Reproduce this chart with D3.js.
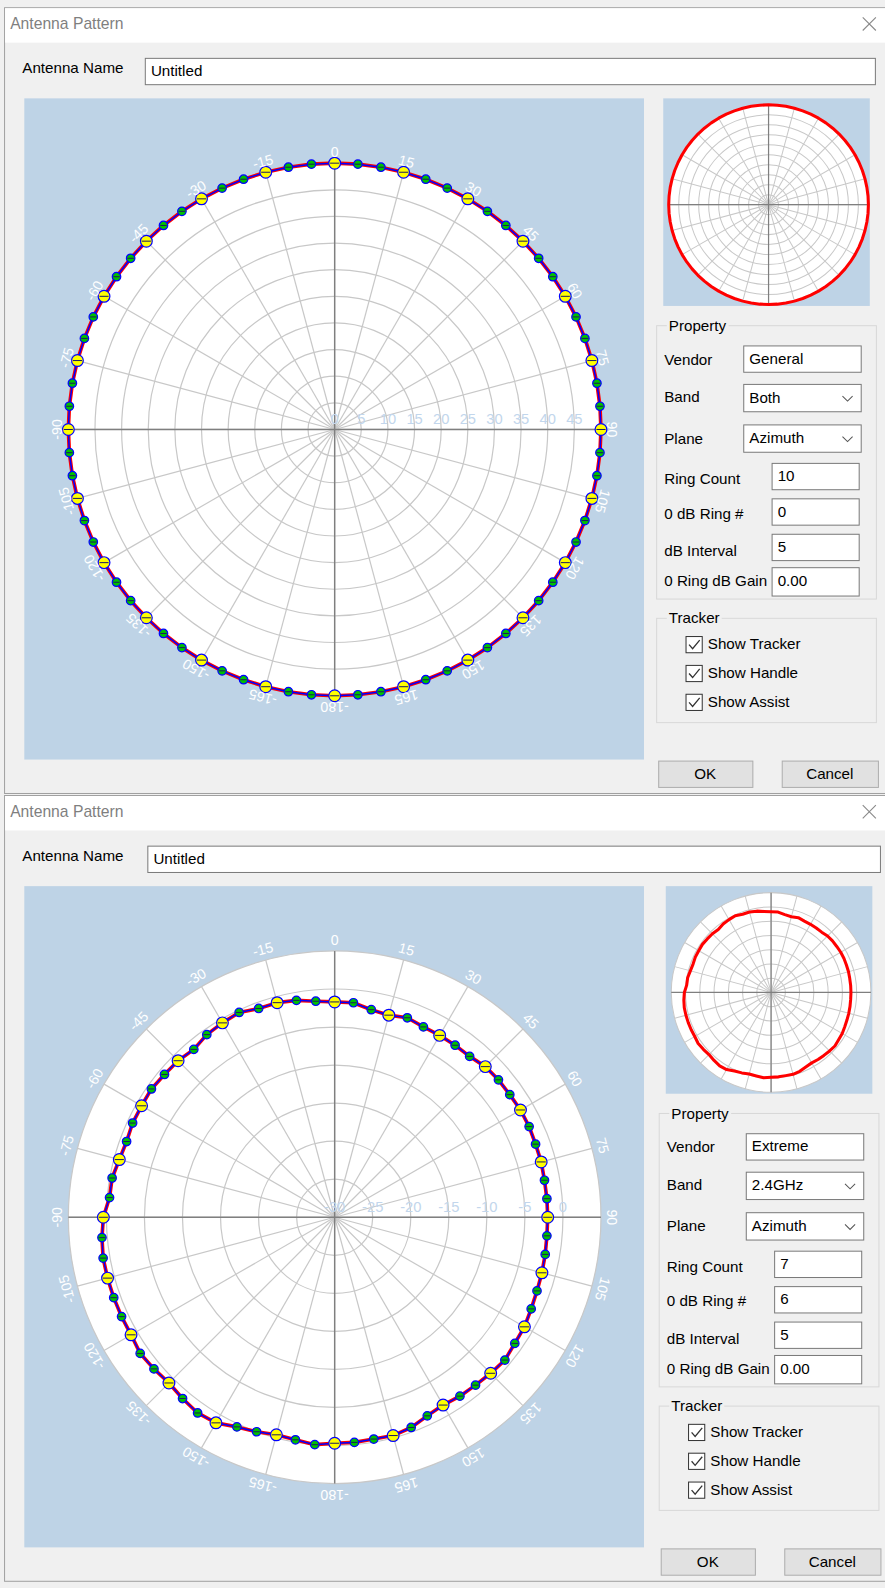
<!DOCTYPE html>
<html>
<head>
<meta charset="utf-8">
<style>
  body { margin: 0; background: #f0f0f0; }
  svg { display: block; font-family: "Liberation Sans", Arial, sans-serif; }
  .ui { font-size: 15px; fill: #000; }
  .title { font-size: 15.5px; fill: #7f7f7f; }
  .angle-lbl { font-size: 14px; fill: #fff; }
  .ring-lbl { font-size: 14.5px; fill: #c2d6ec; }
</style>
</head>
<body>
<svg id="chart" width="885" height="1588" viewBox="0 0 874 1568"></svg>
<script src="https://cdn.jsdelivr.net/npm/d3@7"></script>
<script>

// ---- data ----
var angleTicks = [0, 15, 30, 45, 60, 75, 90, 105, 120, 135, 150, 165,
                  180, 195, 210, 225, 240, 255, 270, 285, 300, 315, 330, 345];
var angleTickLabels = ["0", "15", "30", "45", "60", "75", "90", "105", "120", "135", "150", "165",
                       "-180", "-165", "-150", "-135", "-120", "-105", "-90", "-75", "-60", "-45", "-30", "-15"];

var patternAngles = [0, 5, 10, 15, 20, 25, 30, 35, 40, 45, 50, 55,
                     60, 65, 70, 75, 80, 85, 90, 95, 100, 105, 110, 115,
                     120, 125, 130, 135, 140, 145, 150, 155, 160, 165, 170, 175,
                     180, 185, 190, 195, 200, 205, 210, 215, 220, 225, 230, 235,
                     240, 245, 250, 255, 260, 265, 270, 275, 280, 285, 290, 295,
                     300, 305, 310, 315, 320, 325, 330, 335, 340, 345, 350, 355];

// top dialog: "General" antenna, flat pattern on the outer ring
var generalGain = [50, 50, 50, 50, 50, 50, 50, 50, 50, 50, 50, 50,
                   50, 50, 50, 50, 50, 50, 50, 50, 50, 50, 50, 50,
                   50, 50, 50, 50, 50, 50, 50, 50, 50, 50, 50, 50,
                   50, 50, 50, 50, 50, 50, 50, 50, 50, 50, 50, 50,
                   50, 50, 50, 50, 50, 50, 50, 50, 50, 50, 50, 50,
                   50, 50, 50, 50, 50, 50, 50, 50, 50, 50, 50, 50];

// bottom dialog: "Extreme" 2.4GHz azimuth pattern (dB)
var extremeGain = [-1.7, -1.7, -2.3, -2.5, -2.1, -2.4, -2.4, -2.4, -2.4, -2.0, -1.9, -1.9,
                   -1.8, -1.8, -1.9, -1.9, -2.0, -2.0, -2.0, -2.0, -1.9, -1.8, -1.7, -1.5,
                   -1.2, -1.1, -0.8, -1.0, -1.2, -1.3, -1.5, -1.2, -0.6, -0.3, -0.4, -0.3,
                   -0.3, 0.0, -0.3, -0.4, 0.0, 0.4, 1.2, 1.4, 1.1, 0.8, 1.0, 1.2,
                   0.9, 0.9, 0.9, 0.9, 0.9, 0.7, 0.4, -0.3, -0.3, -0.7, -0.9, -0.7,
                   -0.7, -0.6, -0.8, -0.9, -1.2, -0.7, -0.5, -0.3, -0.8, -0.8, -1.05, -1.5];

var generalRingLabels = [0, 5, 10, 15, 20, 25, 30, 35, 40, 45];
var extremeRingLabels = [-30, -25, -20, -15, -10, -5, 0];

var generalProps = { vendor: "General", band: "Both", plane: "Azimuth",
                     ringCount: 10, zeroRing: 0, interval: 5, zeroGain: 0 };
var extremeProps = { vendor: "Extreme", band: "2.4GHz", plane: "Azimuth",
                     ringCount: 7, zeroRing: 6, interval: 5, zeroGain: 0 };

var trackerItems = ["Show Tracker", "Show Handle", "Show Assist"];

var svg = d3.select("#chart");
var PANEL = "#bed3e6";

// ---- small widgets ----
function textbox(g, x, y, w, h, val) {
  g.append("rect").attr("x", x + 0.5).attr("y", y + 0.5).attr("width", w).attr("height", h)
    .attr("fill", "#fff").attr("stroke", "#7a7a7a");
  g.append("text").attr("class", "ui").attr("x", x + 6).attr("y", y + h / 2 + 5).text(val);
}

function combo(g, x, y, w, h, val) {
  textbox(g, x, y, w, h, val);
  var cx = x + w - 13, cy = y + h / 2 + 1;
  g.append("path").attr("d", "M" + (cx - 5) + "," + (cy - 2.5) + "L" + cx + "," + (cy + 2.5) + "L" + (cx + 5) + "," + (cy - 2.5))
    .attr("fill", "none").attr("stroke", "#555").attr("stroke-width", 1);
}

function groupBox(g, x, y, w, h, label) {
  g.append("rect").attr("x", x).attr("y", y).attr("width", w).attr("height", h)
    .attr("fill", "none").attr("stroke", "#d8d8d8");
  var t = g.append("text").attr("class", "ui").attr("x", x + 12).attr("y", y + 5).text(label);
  var bb = t.node().getBBox();
  g.insert("rect", function() { return t.node(); })
    .attr("x", bb.x - 2).attr("y", bb.y).attr("width", bb.width + 4).attr("height", bb.height)
    .attr("fill", "#f0f0f0");
}

function checkbox(g, x, cy, label) {
  g.append("rect").attr("x", x + 0.5).attr("y", cy - 8 + 0.5).attr("width", 16).attr("height", 16)
    .attr("fill", "#fff").attr("stroke", "#333");
  g.append("path").attr("d", "M" + (x + 3.5) + "," + (cy + 0.5) + "L" + (x + 7) + "," + (cy + 4.5) + "L" + (x + 14) + "," + (cy - 4))
    .attr("fill", "none").attr("stroke", "#333").attr("stroke-width", 1.3);
  g.append("text").attr("class", "ui").attr("x", x + 22).attr("y", cy + 5).text(label);
}

function button(g, x, y, w, h, label) {
  g.append("rect").attr("x", x + 0.5).attr("y", y + 0.5).attr("width", w).attr("height", h)
    .attr("fill", "#e1e1e1").attr("stroke", "#adadad");
  g.append("text").attr("class", "ui").attr("x", x + w / 2).attr("y", y + h / 2 + 5)
    .attr("text-anchor", "middle").text(label);
}

// ---- polar chart ----
function drawPolar(g, cx, cy, R, p, gain, ringLabels, main) {
  var lo = p.zeroGain - p.zeroRing * p.interval,
      hi = lo + p.ringCount * p.interval;
  var r = d3.scaleLinear().domain([lo, hi]).range([0, R]);
  var ang = d3.scaleLinear().domain([0, 360]).range([0, 2 * Math.PI]);
  var rings = d3.range(1, p.ringCount + 1).map(function(i) { return lo + i * p.interval; });

  var c = g.append("g").attr("transform", "translate(" + cx + "," + cy + ")");

  c.append("circle").attr("r", R).attr("fill", "#fff");

  c.selectAll(".ring").data(rings).enter().append("circle")
    .attr("class", "ring")
    .attr("r", function(d) { return r(d); })
    .attr("fill", "none").attr("stroke", "#c8c8c8").attr("stroke-width", main ? 1.2 : 1);

  c.selectAll(".spoke").data(angleTicks).enter().append("line")
    .attr("class", "spoke")
    .attr("x2", function(d) { return R * Math.sin(ang(d)); })
    .attr("y2", function(d) { return -R * Math.cos(ang(d)); })
    .attr("stroke", "#c8c8c8").attr("stroke-width", main ? 1.2 : 1);

  c.append("line").attr("x1", -R).attr("x2", R)
    .attr("stroke", "#7f7f7f").attr("stroke-width", main ? 1.4 : 1.2);
  c.append("line").attr("y1", -R).attr("y2", R)
    .attr("stroke", "#7f7f7f").attr("stroke-width", main ? 1.4 : 1.2);

  var pts = patternAngles.map(function(a, i) { return { a: a, g: gain[i] }; });
  var line = d3.lineRadial()
    .angle(function(d) { return ang(d.a); })
    .radius(function(d) { return r(d.g); })
    .curve(d3.curveLinearClosed);

  c.append("path").attr("d", line(pts))
    .attr("fill", "none").attr("stroke", "#ff0000")
    .attr("stroke-width", main ? 3.6 : 3).attr("stroke-linejoin", "round");

  if (!main) return;

  c.append("path").attr("d", line(pts))
    .attr("fill", "none").attr("stroke", "#0000ff").attr("stroke-width", 1.5);

  // tracker handles
  var mk = c.selectAll(".mk").data(pts).enter().append("g")
    .attr("class", "mk")
    .attr("transform", function(d) {
      return "translate(" + (r(d.g) * Math.sin(ang(d.a))) + "," + (-r(d.g) * Math.cos(ang(d.a))) + ")";
    });
  mk.append("circle")
    .attr("r", function(d) { return d.a % 15 === 0 ? 5.8 : 4.2; })
    .attr("fill", function(d) { return d.a % 15 === 0 ? "#ffff00" : "#00c000"; })
    .attr("stroke", "#0000ff").attr("stroke-width", 1.2);
  mk.append("line")
    .attr("x1", function(d) { return d.a % 15 === 0 ? -4.5 : -3.2; })
    .attr("x2", function(d) { return d.a % 15 === 0 ? 4.5 : 3.2; })
    .attr("stroke", "#1a1a60").attr("stroke-width", 1);

  // dB ring labels
  c.selectAll(".ring-lbl").data(ringLabels).enter().append("text")
    .attr("class", "ring-lbl")
    .attr("x", function(d) { return r(d); })
    .attr("y", -5)
    .attr("text-anchor", "middle")
    .text(function(d) { return d; });

  // angle labels
  c.selectAll(".angle-lbl").data(angleTicks).enter().append("text")
    .attr("class", "angle-lbl")
    .attr("transform", function(d) { return "rotate(" + d + ") translate(0," + (-(R + 11)) + ")"; })
    .attr("text-anchor", "middle")
    .attr("dominant-baseline", "central")
    .text(function(d, i) { return angleTickLabels[i]; });
}

// ---- dialog ----
function drawDialog(oy, dx, p, gain, ringLabels) {
  var g = svg.append("g").attr("transform", "translate(0," + oy + ")");

  g.append("rect").attr("x", 4.5).attr("y", 7.5).attr("width", 880).attr("height", 776)
    .attr("fill", "#f0f0f0").attr("stroke", "#a0a0a0");
  g.append("rect").attr("x", 5).attr("y", 8).attr("width", 875).attr("height", 34).attr("fill", "#fff");
  g.append("text").attr("class", "title").attr("x", 10).attr("y", 29).text("Antenna Pattern");
  g.append("path").attr("d", "M852,17L865,30M865,17L852,30")
    .attr("stroke", "#8a8a8a").attr("stroke-width", 1.1);

  g.append("text").attr("class", "ui").attr("x", 22).attr("y", 72).text("Antenna Name");
  textbox(g, 143 + dx, 57, 721 + dx, 26, "Untitled");

  // main chart
  g.append("rect").attr("x", 24).attr("y", 97).attr("width", 612).attr("height", 653).attr("fill", PANEL);
  drawPolar(g, 330.5, 424, 263, p, gain, ringLabels, true);

  // thumbnail
  g.append("rect").attr("x", 655 + dx).attr("y", 97).attr("width", 204).attr("height", 205).attr("fill", PANEL);
  drawPolar(g, 759 + dx, 202, 98.6, p, gain, ringLabels, false);

  // property group
  var x0 = 656 + dx;
  groupBox(g, 648.5 + dx, 321.5, 217, 270, "Property");
  g.append("text").attr("class", "ui").attr("x", x0).attr("y", 360).text("Vendor");
  textbox(g, 734 + dx, 341, 116, 26, p.vendor);
  g.append("text").attr("class", "ui").attr("x", x0).attr("y", 397).text("Band");
  combo(g, 734 + dx, 379, 116, 27, p.band);
  g.append("text").attr("class", "ui").attr("x", x0).attr("y", 438).text("Plane");
  combo(g, 734 + dx, 419, 116, 27, p.plane);
  g.append("text").attr("class", "ui").attr("x", x0).attr("y", 478).text("Ring Count");
  textbox(g, 762 + dx, 457, 86, 26, p.ringCount);
  g.append("text").attr("class", "ui").attr("x", x0).attr("y", 512).text("0 dB Ring #");
  textbox(g, 762 + dx, 492, 86, 26, p.zeroRing);
  g.append("text").attr("class", "ui").attr("x", x0).attr("y", 549).text("dB Interval");
  textbox(g, 762 + dx, 527, 86, 26, p.interval);
  g.append("text").attr("class", "ui").attr("x", x0).attr("y", 579).text("0 Ring dB Gain");
  textbox(g, 762 + dx, 560, 86, 28, p.zeroGain.toFixed(2));

  // tracker group
  groupBox(g, 648.5 + dx, 610.5, 217, 103, "Tracker");
  trackerItems.forEach(function(t, i) {
    checkbox(g, 677 + dx, 636 + i * 28.5, t);
  });

  button(g, 650 + dx, 751, 93, 26, "OK");
  button(g, 772 + dx, 751, 95, 26, "Cancel");
}

drawDialog(0, 0, generalProps, generalGain, generalRingLabels);
drawDialog(778, 2.5, extremeProps, extremeGain, extremeRingLabels);

</script>
</body>
</html>
